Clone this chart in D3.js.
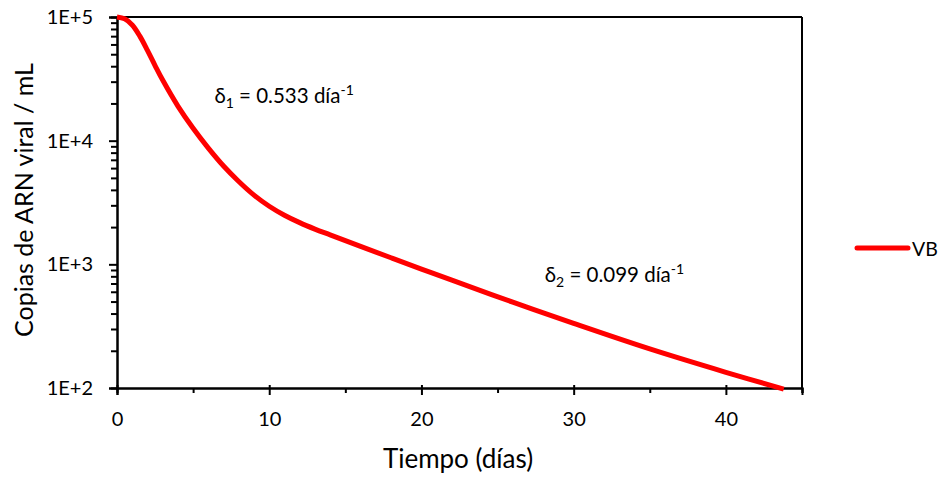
<!DOCTYPE html>
<html><head><meta charset="utf-8">
<script src="https://cdn.jsdelivr.net/npm/d3@7"></script>
<style>
html,body{margin:0;padding:0;background:#fff;}
svg text{font-family:Lato,"Open Sans",sans-serif;fill:#000;}
</style></head>
<body>
<svg id="chart" width="943" height="479"></svg>
<script>
// Data
const days   = [0, 0.5, 1.0, 1.5, 2.0, 2.5, 3.0, 4.0, 5.0, 6.0, 7.0, 8.0, 9.0, 10, 11, 12, 13, 14, 16, 18, 20, 22, 26, 30, 35, 40, 43.8];
const values = [100000, 96600, 86100, 70000, 53700, 40500, 30900, 19050, 12590, 8710, 6240, 4680, 3630, 2950, 2495, 2173, 1928, 1730, 1396, 1130, 916, 745, 494, 333, 207, 134, 98];
const seriesName = "VB";
const xTicks = [0, 10, 20, 30, 40];
const xMinorTicks = [5, 15, 25, 35, 45];
const yTicks = [1e2, 1e3, 1e4, 1e5];
const yTickLabels = ["1E+2", "1E+3", "1E+4", "1E+5"];
const annotations = [
  {sym: "δ", sub: "1", text: " = 0.533 día", sup: "-1", x: 6.4, v: 20000},
  {sym: "δ", sub: "2", text: " = 0.099 día", sup: "-1", x: 28.1, v: 720}
];

const svg = d3.select("#chart");
const L = 117, R = 802, T = 17, B = 388;
const x = d3.scaleLinear().domain([0, 45]).range([L, R]);
const y = d3.scaleLog().domain([1e2, 1e5]).range([B, T]);

// minor y ticks
const yMinor = [];
[1e2, 1e3, 1e4].forEach(d => { for (let k = 2; k <= 9; k++) yMinor.push(d * k); });

// frame top & right
svg.append("line").attr("x1", L).attr("x2", R).attr("y1", T).attr("y2", T).attr("stroke", "#000").attr("stroke-width", 2);
svg.append("line").attr("x1", R).attr("x2", R).attr("y1", T).attr("y2", B).attr("stroke", "#000").attr("stroke-width", 2);

// y axis
const yAxis = d3.axisLeft(y).tickValues(yTicks).tickFormat((d, i) => yTickLabels[i]).tickSizeOuter(0).tickSize(8).tickPadding(16);
const ya = svg.append("g").attr("transform", `translate(${L},0)`).call(yAxis);
const yAxisMinor = d3.axisLeft(y).tickValues(yMinor).tickFormat("").tickSizeOuter(0).tickSize(6);
const yam = svg.append("g").attr("transform", `translate(${L},0)`).call(yAxisMinor);

// x axis
const xAxis = d3.axisBottom(x).tickValues(xTicks).tickSizeOuter(0).tickSize(7).tickPadding(17);
const xa = svg.append("g").attr("transform", `translate(0,${B})`).call(xAxis);
const xAxisMinor = d3.axisBottom(x).tickValues(xMinorTicks).tickFormat("").tickSizeOuter(0).tickSize(5);
const xam = svg.append("g").attr("transform", `translate(0,${B})`).call(xAxisMinor);

[ya, yam, xa, xam].forEach(a => {
  a.select(".domain").attr("stroke", "#000").attr("stroke-width", 2);
  a.selectAll(".tick line").attr("stroke", "#000").attr("stroke-width", 2);
  a.selectAll(".tick text").style("font-family", "Lato").style("font-size", "20px").attr("fill", "#000");
});
xa.selectAll(".tick line").attr("y1", -3);

// series line
const line = d3.line().x((d, i) => x(days[i])).y(d => y(d)).curve(d3.curveCatmullRom.alpha(0.5));
svg.append("path").datum(values).attr("d", line)
  .attr("fill", "none").attr("stroke", "#ff0000").attr("stroke-width", 5).attr("stroke-linejoin", "round");

// annotations
annotations.forEach(a => {
  const t = svg.append("text").attr("x", x(a.x)).attr("y", y(a.v)).style("font-size", "20.5px");
  t.append("tspan").text(a.sym);
  t.append("tspan").text(a.sub).attr("dy", 5).style("font-size", "14px");
  t.append("tspan").text(a.text).attr("dy", -5);
  t.append("tspan").text(a.sup).attr("dy", -8).style("font-size", "14px");
});

// axis titles
svg.append("text").attr("x", 458).attr("y", 468).attr("text-anchor", "middle")
  .style("font-size", "26px").text("Tiempo (días)");
svg.append("text").attr("transform", `translate(33,200) rotate(-90)`).attr("text-anchor", "middle")
  .style("font-size", "25px").text("Copias de ARN viral / mL");

// legend
svg.append("line").attr("x1", 857).attr("x2", 908).attr("y1", 248).attr("y2", 248)
  .attr("stroke", "#ff0000").attr("stroke-width", 5).attr("stroke-linecap", "round");
svg.append("text").attr("x", 912).attr("y", 256).style("font-size", "19.5px").text(seriesName);
</script>
</body></html>
